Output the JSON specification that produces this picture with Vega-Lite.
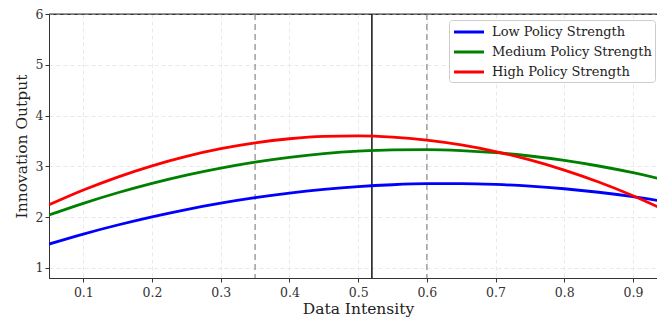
{
  "$schema": "https://vega.github.io/schema/vega-lite/v6.json",
  "width": 608,
  "height": 264,
  "autosize": {"type": "none"},
  "padding": {"left": 49, "top": 14, "right": 0, "bottom": 45},
  "background": "white",
  "config": {
    "font": "DejaVu Serif",
    "view": {"stroke": "#333", "strokeWidth": 1},
    "axis": {
      "labelFont": "DejaVu Serif",
      "titleFont": "DejaVu Serif",
      "labelFontSize": 12.5,
      "titleFontSize": 15.5,
      "titleFontWeight": "normal",
      "labelColor": "#333",
      "titleColor": "#222",
      "domainColor": "#333",
      "tickColor": "#333",
      "tickSize": 4,
      "grid": true,
      "gridColor": "#e3e3e3",
      "gridDash": [4, 3],
      "gridWidth": 0.8
    }
  },
  "layer": [
    {
      "data": {"values": [{"x": 0.35}, {"x": 0.6}]},
      "mark": {"type": "rule", "color": "#a0a0a0", "strokeWidth": 1.5, "strokeDash": [6, 4]},
      "encoding": {
        "x": {"field": "x", "type": "quantitative", "scale": {"domain": [0.05, 0.935], "nice": false, "zero": false}}
      }
    },
    {
      "data": {"values": [{"x": 0.52}]},
      "mark": {"type": "rule", "color": "#111", "strokeWidth": 1.5},
      "encoding": {
        "x": {"field": "x", "type": "quantitative"}
      }
    },
    {
      "data": {"values": [{"y": 6}]},
      "mark": {"type": "rule", "color": "#333", "strokeWidth": 1.2},
      "encoding": {
        "y": {"field": "y", "type": "quantitative", "scale": {"domain": [0.8, 6], "nice": false, "zero": false}}
      }
    },
    {
      "data": {"values": [
        {"x": 0.05, "Low": 1.469, "Medium": 2.040, "High": 2.241},
        {"x": 0.10, "Low": 1.666, "Medium": 2.271, "High": 2.532},
        {"x": 0.15, "Low": 1.844, "Medium": 2.479, "High": 2.788},
        {"x": 0.20, "Low": 2.005, "Medium": 2.664, "High": 3.010},
        {"x": 0.25, "Low": 2.149, "Medium": 2.827, "High": 3.196},
        {"x": 0.30, "Low": 2.274, "Medium": 2.966, "High": 3.347},
        {"x": 0.35, "Low": 2.382, "Medium": 3.084, "High": 3.462},
        {"x": 0.40, "Low": 2.473, "Medium": 3.178, "High": 3.543},
        {"x": 0.45, "Low": 2.545, "Medium": 3.250, "High": 3.589},
        {"x": 0.50, "Low": 2.600, "Medium": 3.299, "High": 3.599},
        {"x": 0.55, "Low": 2.637, "Medium": 3.325, "High": 3.575},
        {"x": 0.60, "Low": 2.657, "Medium": 3.329, "High": 3.515},
        {"x": 0.65, "Low": 2.659, "Medium": 3.310, "High": 3.420},
        {"x": 0.70, "Low": 2.643, "Medium": 3.268, "High": 3.290},
        {"x": 0.75, "Low": 2.609, "Medium": 3.203, "High": 3.125},
        {"x": 0.80, "Low": 2.558, "Medium": 3.116, "High": 2.925},
        {"x": 0.85, "Low": 2.489, "Medium": 3.006, "High": 2.690},
        {"x": 0.90, "Low": 2.402, "Medium": 2.874, "High": 2.420},
        {"x": 0.95, "Low": 2.298, "Medium": 2.718, "High": 2.115}
      ]},
      "transform": [
        {"fold": ["Low", "Medium", "High"], "as": ["level", "y"]},
        {"calculate": "datum.level + ' Policy Strength'", "as": "series"}
      ],
      "mark": {"type": "line", "strokeWidth": 2.8, "interpolate": "monotone", "clip": true},
      "encoding": {
        "x": {
          "field": "x", "type": "quantitative",
          "title": "Data Intensity",
          "axis": {"values": [0.1, 0.2, 0.3, 0.4, 0.5, 0.6, 0.7, 0.8, 0.9], "format": ".1~f", "titlePadding": 3, "titleX": 309, "labelPadding": 4}
        },
        "y": {
          "field": "y", "type": "quantitative",
          "title": "Innovation Output",
          "axis": {"values": [1, 2, 3, 4, 5, 6], "titlePadding": 6}
        },
        "color": {
          "field": "series", "type": "nominal",
          "scale": {
            "domain": ["Low Policy Strength", "Medium Policy Strength", "High Policy Strength"],
            "range": ["#0000ff", "#008000", "#ff0000"]
          },
          "legend": {
            "title": null,
            "orient": "none",
            "legendX": 400,
            "legendY": 6,
            "symbolType": "M-2,0H2",
            "symbolStrokeWidth": 3,
            "symbolSize": 225,
            "symbolOffset": 8,
            "labelFont": "DejaVu Serif",
            "labelFontSize": 13,
            "labelColor": "#222",
            "labelOffset": 14,
            "rowPadding": 4,
            "padding": 3,
            "fillColor": "white",
            "strokeColor": "#cccccc",
            "cornerRadius": 3
          }
        }
      }
    }
  ]
}
